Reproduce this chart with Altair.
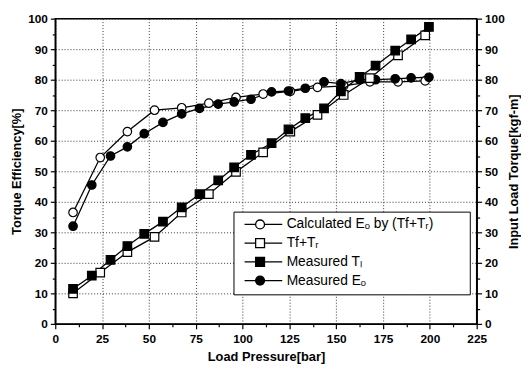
import altair as alt
import pandas as pd

# ---- data ----
x_calc = [9.5, 24, 38.5, 53, 67.5, 82, 96.5, 111, 125.5, 140, 154, 168, 183, 197.5]
calc_eo = [36.5, 54.5, 63, 70, 70.8, 72.3, 74.2, 75.3, 76.2, 77.5, 78, 79.3, 79.3, 79.6]
tf_tr = [10, 16.8, 23.5, 28.5, 36.5, 42.5, 49.8, 56.2, 63, 68.5, 75, 80.5, 88, 94.5]

x_meas = [9.5, 19.5, 29.5, 38.5, 47.5, 57.5, 67.5, 77, 87, 95.5, 104.5, 115.5, 124.5,
          133.5, 143.5, 152.5, 162.5, 171, 181.5, 190, 199.5]
meas_tl = [11.5, 15.8, 21, 25.5, 29.5, 33.5, 38.2, 42.5, 47, 51.3, 55.4, 59.2, 63.7,
           67.4, 70.6, 76.2, 80.9, 84.6, 89.5, 93.2, 97.3]
meas_eo = [32, 45.5, 55, 58, 62.3, 66, 68.8, 70.6, 72, 72.7, 73.6, 76, 76.3,
           77.2, 79.3, 78.7, 80, 80, 80.3, 80.6, 80.8]

series_labels = ["Calculated E\u2092 by (Tf+T\u1d63)", "Tf+T\u1d63", "Measured T\u2097", "Measured E\u2092"]
x_ticks = [i * 12.5 for i in range(19)]
y_ticks = [i * 5 for i in range(21)]

eff_df = pd.concat([
    pd.DataFrame({"p": x_calc, "v": calc_eo, "series": series_labels[0]}),
    pd.DataFrame({"p": x_meas, "v": meas_eo, "series": series_labels[3]}),
])
tq_df = pd.concat([
    pd.DataFrame({"p": x_calc, "v": tf_tr, "series": series_labels[1]}),
    pd.DataFrame({"p": x_meas, "v": meas_tl, "series": series_labels[2]}),
])
leg_df = pd.DataFrame({"series": series_labels})

FONT = "Liberation Sans"
shape_range = ["circle", "square", "square", "circle"]
fill_range = ["white", "white", "black", "black"]
circle_path = "M-3.5,0L-1,0M1,0L5,0M1,0A1,1,0,1,1,-1,0A1,1,0,1,1,1,0Z"
square_path = "M-3.5,0L-1,0M1,0L5,0M-1,-1L1,-1L1,1L-1,1Z"
legend_shapes = [circle_path, square_path, square_path, circle_path]

common_axis = dict(
    labelFont=FONT, labelFontWeight="bold", labelFontSize=12, labelColor="black",
    titleFont=FONT, titleFontWeight="bold", titleFontSize=13, titleColor="black",
    domainColor="black", domainWidth=1.5, tickColor="black", tickWidth=1.2,
    gridColor="#333333", gridDash=[1, 2], gridWidth=1,
)

x_enc = alt.X("p:Q", scale=alt.Scale(domain=[0, 225], nice=False),
              axis=alt.Axis(values=x_ticks, title="Load Pressure[bar]",
                            labelExpr="datum.value % 25 === 0 ? datum.label : ''",
                            tickSize={"condition": {"test": "datum.value % 25 === 0", "value": 5}, "value": 3},
                            gridOpacity={"condition": {"test": "datum.value % 25 === 0", "value": 1}, "value": 0},
                            labelPadding=5, titlePadding=6, labelFlush=False, labelOverlap=False,
                            **common_axis))

def y_enc(orient, title):
    extra = {"titleBaseline": "top"} if orient == "right" else {}
    return alt.Y("v:Q", scale=alt.Scale(domain=[0, 100], nice=False),
                 axis=alt.Axis(values=y_ticks, orient=orient, title=title,
                               labelExpr="datum.value % 10 === 0 ? datum.label : ''",
                               tickSize={"condition": {"test": "datum.value % 10 === 0", "value": 5}, "value": 3},
                               gridOpacity={"condition": {"test": "datum.value % 10 === 0", "value": 1}, "value": 0},
                               grid=(orient == "left"), labelPadding=3, titlePadding=4 if orient == "left" else 3,
                               titleAngle=270, labelOverlap=False, labelFlush=False,
                               **extra, **common_axis))

pt_shape = alt.Shape("series:N", scale=alt.Scale(domain=series_labels, range=shape_range), legend=None)
pt_fill = alt.Fill("series:N", scale=alt.Scale(domain=series_labels, range=fill_range), legend=None)

def panel(df, orient, title):
    base = alt.Chart(df)
    lines = base.mark_line(color="black", strokeWidth=1.3).encode(
        x=x_enc, y=y_enc(orient, title), detail="series:N")
    pts = base.mark_point(filled=True, stroke="black", strokeWidth=1.2, size=75, opacity=1).encode(
        x=x_enc, y=y_enc(orient, title), shape=pt_shape, fill=pt_fill)
    return alt.layer(lines, pts)

eff = panel(eff_df, "left", "Torque Efficiency[%]")
tq = panel(tq_df, "right", "Input Load Torque[kgf-m]")

pad = "\u2800" * 3
legend = alt.Legend(
    orient="none", legendX=181, legendY=196, title=None,
    strokeColor="black", fillColor="white", padding=6, cornerRadius=0,
    labelFont=FONT, labelFontSize=14, labelColor="black", labelLimit=400,
    labelExpr="indexof(datum.label, 'Calc') >= 0 ? datum.label + '" + pad + "' : datum.label",
    symbolSize=81, symbolStrokeWidth=1.3, symbolOpacity=1,
    symbolOffset=14, labelOffset=20, rowPadding=3,
)
leg = alt.Chart(leg_df).mark_point(filled=False, opacity=0).encode(
    shape=alt.Shape("series:N", scale=alt.Scale(domain=series_labels, range=legend_shapes), legend=legend),
    fill=alt.Fill("series:N", scale=alt.Scale(domain=series_labels, range=fill_range), legend=legend),
    stroke=alt.Stroke("series:N", scale=alt.Scale(domain=series_labels, range=["black"] * 4), legend=legend),
)

chart = alt.layer(eff, tq, leg).resolve_scale(
    y="independent", shape="independent", fill="independent", stroke="independent"
).properties(
    width=428, height=310,
    autosize=alt.AutoSizeParams(type="none"),
    padding={"left": 48, "top": 8, "right": 45, "bottom": 43},
).configure_view(stroke="black", strokeWidth=1.5)

chart.save("out.html", embed_options={"renderer": "svg", "actions": False})
